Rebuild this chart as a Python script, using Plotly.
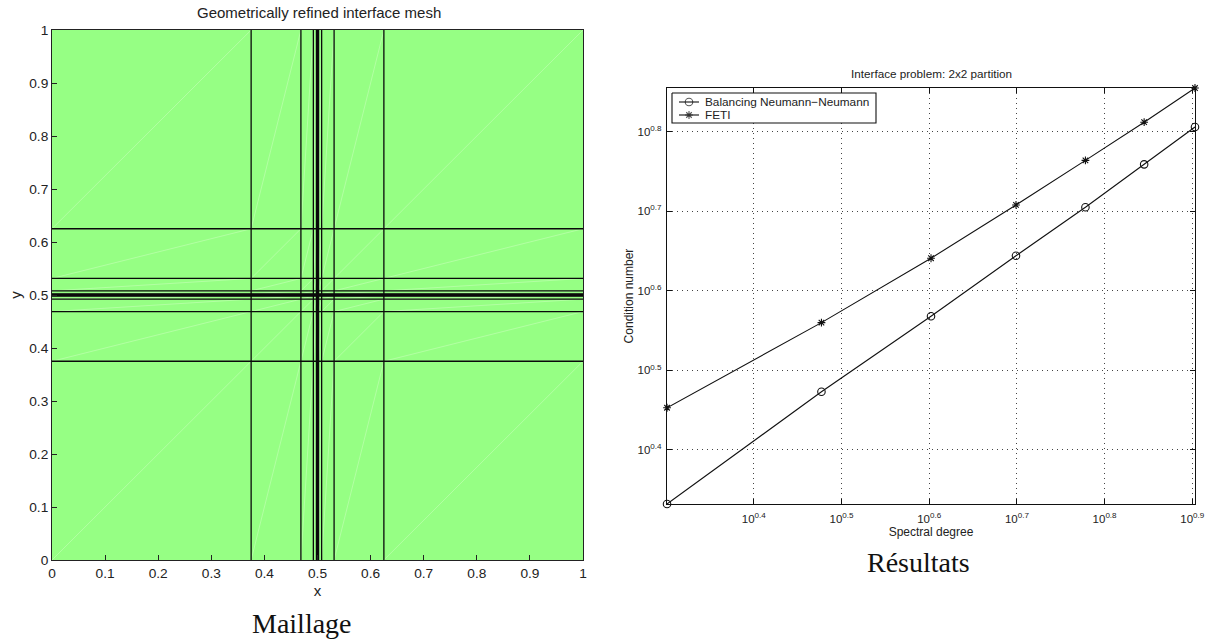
import plotly.graph_objects as go

W, H = 1208, 641
# mesh
grid = [0, 0.375, 0.46875, 0.4921875, 0.498, 0.499, 0.5, 0.501, 0.502, 0.5078125, 0.53125, 0.625, 1]
mesh_ticks = [0, 0.1, 0.2, 0.3, 0.4, 0.5, 0.6, 0.7, 0.8, 0.9, 1]
mesh_labels = ["0", "0.1", "0.2", "0.3", "0.4", "0.5", "0.6", "0.7", "0.8", "0.9", "1"]
# results
degree = [2, 3, 4, 5, 6, 7, 8]
bnn = [2.148, 2.972, 3.698, 4.406, 5.070, 5.741, 6.397]
feti = [2.838, 3.631, 4.375, 5.105, 5.808, 6.486, 7.161]
x_exps = [0.4, 0.5, 0.6, 0.7, 0.8, 0.9]
y_exps = [0.4, 0.5, 0.6, 0.7, 0.8]
series_names = ["Balancing Neumann\u2212Neumann", "FETI"]

def px(a, b):
    return [a / W, b / W]
def py(top, bottom):
    return [1 - bottom / H, 1 - top / H]

FONT = "Liberation Sans"
TXT = "#222222"
INK = "#111111"
MARK = [dict(symbol="circle-open", size=7.5, color=INK, line=dict(width=1.1)),
        dict(symbol="asterisk-open", size=6.5, color=INK, line=dict(width=1.1))]
fig = go.Figure()

fig.add_trace(go.Scatter(x=[0, 1, 1, 0, 0], y=[0, 0, 1, 1, 0], mode="lines", fill="toself",
                         fillcolor="#96FF84", line=dict(width=0), hoverinfo="skip",
                         showlegend=False, xaxis="x", yaxis="y"))
dx, dy = [], []
for i in range(len(grid) - 1):
    for j in range(len(grid) - 1):
        dx += [grid[i], grid[i + 1], None]
        dy += [grid[j], grid[j + 1], None]
fig.add_trace(go.Scatter(x=dx, y=dy, mode="lines", line=dict(color="#BEFFB0", width=0.7),
                         hoverinfo="skip", showlegend=False, xaxis="x", yaxis="y"))
lx, ly = [], []
for g in grid[1:-1]:
    lx += [g, g, None, 0, 1, None]
    ly += [0, 1, None, g, g, None]
fig.add_trace(go.Scatter(x=lx, y=ly, mode="lines", line=dict(color="#0A0A0A", width=1.3),
                         hoverinfo="skip", showlegend=False, xaxis="x", yaxis="y"))

fig.add_trace(go.Scatter(x=degree, y=bnn, mode="lines+markers", name=series_names[0],
                         line=dict(color=INK, width=1.1), marker=MARK[0],
                         cliponaxis=False, showlegend=False, xaxis="x2", yaxis="y2"))
fig.add_trace(go.Scatter(x=degree, y=feti, mode="lines+markers", name=series_names[1],
                         line=dict(color=INK, width=1.1), marker=MARK[1],
                         cliponaxis=False, showlegend=False, xaxis="x2", yaxis="y2"))

# compact key, on a hidden overlay axis measured in page pixels
BOX = (672, 876, 93, 123)
ROWS = [102, 115]
fig.add_trace(go.Scatter(x=[BOX[0], BOX[1], BOX[1], BOX[0], BOX[0]], y=[BOX[2], BOX[2], BOX[3], BOX[3], BOX[2]],
                         mode="lines", fill="toself", fillcolor="white", line=dict(color=INK, width=1.1),
                         hoverinfo="skip", showlegend=False, xaxis="x3", yaxis="y3"))
for row, mk in zip(ROWS, MARK):
    fig.add_trace(go.Scatter(x=[679, 689, 699], y=[row, row, row], mode="lines+markers",
                             line=dict(color=INK, width=1.1),
                             marker=dict(mk, maxdisplayed=0), hoverinfo="skip", showlegend=False,
                             selectedpoints=None, xaxis="x3", yaxis="y3"))

annotations = [
    dict(text="Geometrically refined interface mesh", x=318.5 / W, y=1 - 12 / H, xref="paper", yref="paper",
         showarrow=False, font=dict(size=15), xanchor="center", yanchor="middle"),
    dict(text="Interface problem: 2x2 partition", x=931 / W, y=1 - 73 / H, xref="paper", yref="paper",
         showarrow=False, font=dict(size=11.7), xanchor="center", yanchor="middle"),
    dict(text="Maillage", x=302 / W, y=1 - 623 / H, xref="paper", yref="paper", showarrow=False,
         font=dict(size=28, family="Liberation Serif", color=INK), xanchor="center", yanchor="middle"),
    dict(text="R\u00e9sultats", x=918.5 / W, y=1 - 562 / H, xref="paper", yref="paper", showarrow=False,
         font=dict(size=28, family="Liberation Serif", color=INK), xanchor="center", yanchor="middle"),
]
for row, name in zip(ROWS, series_names):
    annotations.append(dict(text=name, x=706 / W, y=1 - row / H, xref="paper", yref="paper", showarrow=False,
                            font=dict(size=11.8), xanchor="left", yanchor="middle", xshift=-3))

fig.update_layout(
    width=W, height=H, autosize=False, margin=dict(l=0, r=0, t=0, b=0, autoexpand=False),
    paper_bgcolor="white", plot_bgcolor="rgba(0,0,0,0)", showlegend=False,
    font=dict(family=FONT, color=TXT, size=12),
    xaxis=dict(domain=px(52, 583), range=[0, 1], anchor="y", tickvals=mesh_ticks, ticktext=mesh_labels,
               showgrid=False, zeroline=False, showline=True, linecolor="#222222", linewidth=1,
               mirror=True, ticks="inside", ticklen=5, tickcolor="#222222", ticklabelstandoff=1,
               tickfont=dict(size=13.7), title=dict(text="x", font=dict(size=15), standoff=5)),
    yaxis=dict(domain=py(30, 560), range=[0, 1], anchor="x", tickvals=mesh_ticks, ticktext=mesh_labels,
               showgrid=False, zeroline=False, showline=True, linecolor="#222222", linewidth=1,
               mirror=True, ticks="inside", ticklen=5, tickcolor="#222222",
               tickfont=dict(size=13.7), title=dict(text="y", font=dict(size=15), standoff=3)),
    xaxis2=dict(domain=px(667, 1195), type="log", range=[0.3010, 0.9031], anchor="y2",
                tickvals=[10 ** e for e in x_exps],
                ticktext=[f"10<sup>{e}</sup>" for e in x_exps],
                showgrid=True, griddash="1px,4px", gridcolor="#444444", gridwidth=0.8,
                zeroline=False, showline=True, linecolor=INK, linewidth=1.3, mirror="allticks",
                ticks="inside", ticklen=5, tickcolor=INK, tickfont=dict(size=11.5), ticklabelstandoff=4,
                title=dict(text="Spectral degree", font=dict(size=12), standoff=3)),
    yaxis2=dict(domain=py(88, 504), type="log", range=[0.332, 0.855], anchor="x2",
                tickvals=[10 ** e for e in y_exps],
                ticktext=[f"10<sup>{e}</sup>" for e in y_exps],
                showgrid=True, griddash="1px,4px", gridcolor="#444444", gridwidth=0.8,
                zeroline=False, showline=True, linecolor=INK, linewidth=1.3, mirror="allticks",
                ticks="inside", ticklen=5, tickcolor=INK, tickfont=dict(size=11.5), ticklabelstandoff=2,
                title=dict(text="Condition number", font=dict(size=12), standoff=1)),
    xaxis3=dict(domain=[0, 1], range=[0, W], visible=False, anchor="y3", fixedrange=True),
    yaxis3=dict(domain=[0, 1], range=[H, 0], visible=False, anchor="x3", fixedrange=True),
    annotations=annotations,
)
# keep only the middle point of each key line as a marker
for tr, sizes_src in zip(fig.data[-2:], MARK):
    tr.marker.maxdisplayed = None
    tr.marker.size = [0, sizes_src["size"], 0]
fig.write_html("out.html", config=dict(displayModeBar=False),
               post_script="document.body.style.margin='0';document.documentElement.style.overflow='hidden';")
